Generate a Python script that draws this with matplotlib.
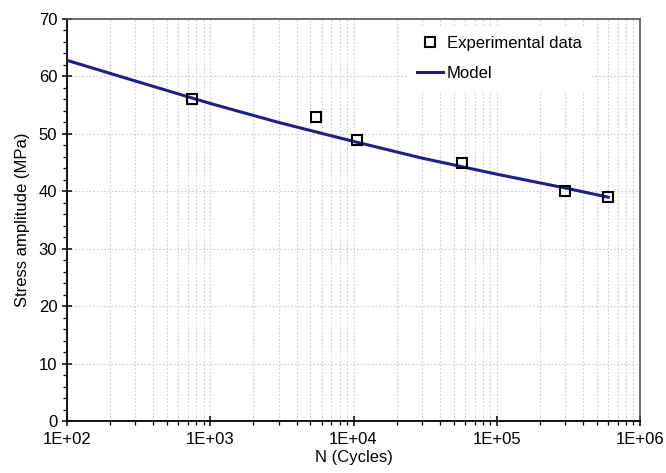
import matplotlib
matplotlib.use("Agg")
import matplotlib.pyplot as plt
import numpy as np
from matplotlib.ticker import FuncFormatter, LogLocator, MultipleLocator

plt.rcParams['font.family'] = ['Liberation Sans', 'DejaVu Sans']

n_exp = [750, 5500, 10500, 57000, 300000, 600000]
s_exp = [56, 53, 49, 45, 40, 39]

# curva do modelo
n_model = [100, 300, 1000, 3000, 10000, 30000, 100000, 300000, 600000]
s_model = [62.8, 59.2, 55.3, 52.0, 48.7, 45.8, 43.0, 40.6, 39.0]

x_ticks = [1e2, 1e3, 1e4, 1e5, 1e6]

fig = plt.figure(figsize=(6.66, 4.73), dpi=100)
ax = fig.add_axes([0.1006, 0.109, 0.8604, 0.851])

ax.plot(n_model, s_model, color='#1e1e85', lw=2.2, label='Model', zorder=3)
ax.plot(n_exp, s_exp, linestyle='none', marker='s', markersize=7.5,
        markerfacecolor='none', markeredgecolor='black', markeredgewidth=1.5,
        label='Experimental data', zorder=4)

ax.set_xscale('log')
ax.set_xlim(1e2, 1e6)
ax.set_ylim(0, 70)
ax.set_xticks(x_ticks)
ax.xaxis.set_minor_locator(LogLocator(base=10, subs=np.arange(2, 10)))
ax.xaxis.set_major_formatter(FuncFormatter(lambda v, p: '1E+%02d' % round(np.log10(v))))
ax.yaxis.set_major_locator(MultipleLocator(10))
ax.yaxis.set_minor_locator(MultipleLocator(2))

ax.grid(True, which='major', axis='y', color='#cccccc', linestyle=(0, (1.5, 1.8)), lw=0.8)
ax.grid(True, which='both', axis='x', color='#cccccc', linestyle=(0, (1.5, 1.8)), lw=0.8)

ax.tick_params(which='major', direction='inout', length=7, width=1.1, labelsize=12, colors='black')
ax.tick_params(which='minor', direction='out', length=3, width=0.9)
ax.tick_params(axis='x', which='major', pad=4)

for s in ['left', 'bottom']:
    ax.spines[s].set_color('black')
    ax.spines[s].set_linewidth(1.3)
for s in ['top', 'right']:
    ax.spines[s].set_color('#555555')
    ax.spines[s].set_linewidth(1.2)

ax.set_xlabel('N (Cycles)', fontsize=12, labelpad=2)
ax.set_ylabel('Stress amplitude (MPa)', fontsize=12, labelpad=6)

handles, labels = ax.get_legend_handles_labels()
leg = ax.legend(handles[::-1], labels[::-1], loc='upper right', bbox_to_anchor=(0.93, 1.003),
                fontsize=12, frameon=True, handlelength=1.6, handletextpad=0.2,
                labelspacing=0.9, borderpad=0.6)
leg.get_frame().set_facecolor('white')
leg.get_frame().set_edgecolor('none')
leg.get_frame().set_alpha(1)

fig.savefig('out.png', dpi=100)
